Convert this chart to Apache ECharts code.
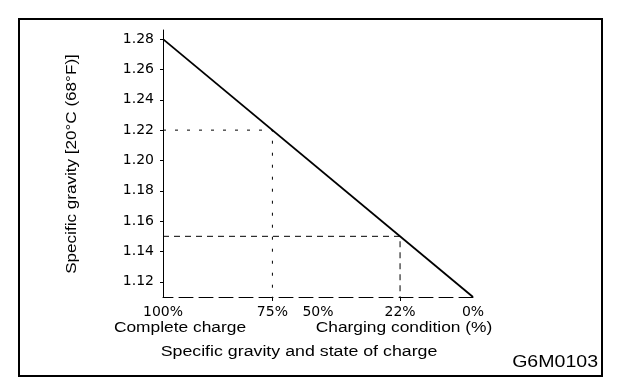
<!DOCTYPE html>
<html>
<head>
<meta charset="utf-8">
<script src="https://cdn.jsdelivr.net/npm/echarts@6/dist/echarts.min.js"></script>
<style>
html,body{margin:0;padding:0;background:#fff;}
#chart{width:640px;height:388px;}
</style>
</head>
<body>
<div id="chart"></div>
<script>
// Specific gravity tick labels (y axis)
const gravityTicks = [1.12, 1.14, 1.16, 1.18, 1.20, 1.22, 1.24, 1.26, 1.28];
// Charging condition labels and the specific gravity each corresponds to
const chargeLabels = ['100%', '75%', '50%', '22%', '0%'];
const chargeGravity = [1.28, 1.22, 1.195, 1.15, 1.11];
// Main relation: specific gravity from complete charge to discharged
const lineGravity = [1.28, 1.11];
// Reference readings (dashed guides)
const guide75 = 1.22;
const guide22 = 1.15;

const chart = echarts.init(document.getElementById('chart'), null, {renderer: 'canvas'});
const FONT = '"Liberation Sans", Arial, Helvetica, sans-serif';
const AXFONT = '"DejaVu Sans", "Liberation Sans", Arial, sans-serif';
const labelMap = {};
chargeGravity.forEach((g, i) => { labelMap[g.toFixed(3)] = chargeLabels[i]; });

const xMin = Math.min(...chargeGravity), xMax = Math.max(...chargeGravity);
const yMin = 1.11, yMax = 1.286;

function guide(v) {
  return [[xMax, v], [v, v], [v, yMin]];
}
function txt(text, x, y, size, align, sx, rot) {
  return {type: 'text', x: x, y: y, scaleX: sx, rotation: rot || 0,
    style: {text: text, font: size + 'px ' + FONT, fill: '#000', align: align, verticalAlign: 'middle'}};
}

chart.setOption({
  animation: false,
  backgroundColor: '#fff',
  grid: {left: 163, right: 167, top: 30, bottom: 91},
  xAxis: {
    type: 'value', inverse: true, min: xMin, max: xMax,
    splitLine: {show: false},
    axisLine: {show: true, lineStyle: {color: '#000', width: 1, type: [14, 6]}},
    axisTick: {show: true, customValues: [guide75, guide22], length: 4, inside: false, lineStyle: {color: '#000'}},
    axisLabel: {
      customValues: chargeGravity, margin: 8, color: '#000', fontSize: 14, fontFamily: AXFONT,
      formatter: v => labelMap[Number(v).toFixed(3)] || ''
    }
  },
  yAxis: {
    type: 'value', min: yMin, max: yMax,
    splitLine: {show: false},
    axisLine: {show: true, lineStyle: {color: '#000', width: 1}},
    axisTick: {show: true, customValues: gravityTicks, length: 3, lineStyle: {color: '#000'}},
    axisLabel: {
      customValues: gravityTicks, margin: 9, color: '#000', fontSize: 14, fontFamily: AXFONT,
      formatter: v => Number(v).toFixed(2)
    }
  },
  series: [
    {
      type: 'line', symbol: 'none', silent: true,
      data: [[lineGravity[0], lineGravity[0]], [lineGravity[1], lineGravity[1]]],
      lineStyle: {color: '#000', width: 1.8}
    },
    {
      type: 'line', symbol: 'none', silent: true,
      data: guide(guide75),
      lineStyle: {color: '#000', width: 1, type: [3, 9]}
    },
    {
      type: 'line', symbol: 'none', silent: true,
      data: guide(guide22),
      lineStyle: {color: '#000', width: 1, type: [6, 5]}
    }
  ],
  graphic: [
    {type: 'rect', shape: {x: 19, y: 19, width: 583, height: 357}, style: {fill: 'none', stroke: '#000', lineWidth: 2}},
    txt('Specific gravity [20°C (68°F)]', 72, 164, 14, 'center', 1.22, Math.PI / 2),
    txt('Complete charge', 180, 328, 14, 'center', 1.24),
    txt('Charging condition (%)', 404, 328, 14, 'center', 1.24),
    txt('Specific gravity and state of charge', 299, 352, 14, 'center', 1.27),
    txt('G6M0103', 598, 362, 17, 'right', 1.15)
  ]
});
</script>
</body>
</html>
